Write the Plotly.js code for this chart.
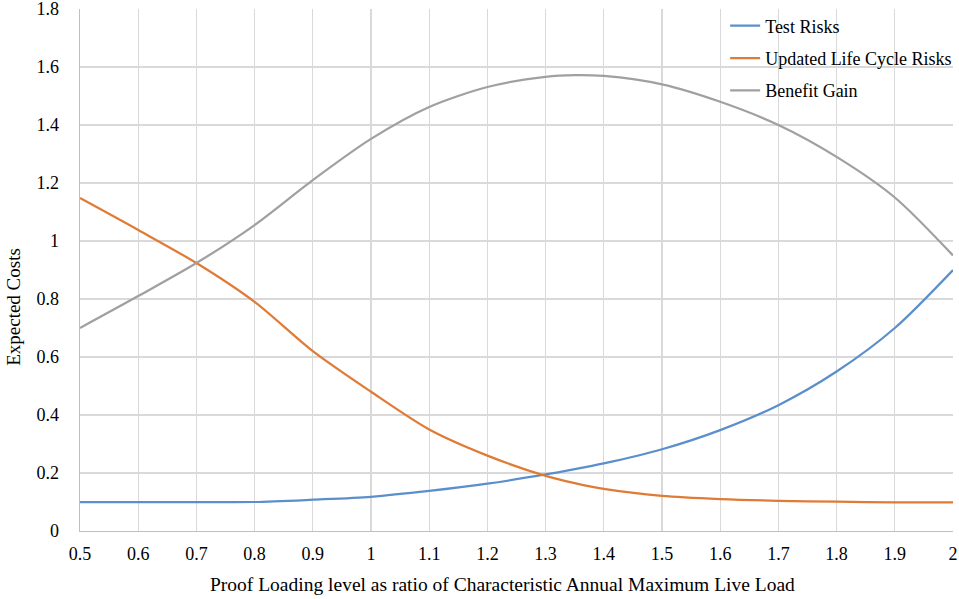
<!DOCTYPE html>
<html>
<head>
<meta charset="utf-8">
<script src="https://cdn.plot.ly/plotly-3.0.1.min.js"></script>
<style>
  body { margin: 0; background: #fff; }
  #chart { width: 959px; height: 599px; }
</style>
</head>
<body>
<div id="chart"></div>
<script>
// proof loading level (ratio of characteristic annual max live load)
var loadLevel = [0.5, 0.6, 0.7, 0.8, 0.9, 1.0, 1.1, 1.2, 1.3, 1.35, 1.4, 1.5, 1.6, 1.7, 1.8, 1.9, 2.0];

var testRisks    = [0.10, 0.10, 0.10, 0.10, 0.108, 0.118, 0.138, 0.163, 0.195, 0.213, 0.233, 0.282, 0.348, 0.434, 0.55, 0.70, 0.90];
var lifeCycle    = [1.148, 1.038, 0.924, 0.79, 0.62, 0.48, 0.35, 0.26, 0.19, 0.165, 0.145, 0.121, 0.110, 0.104, 0.101, 0.099, 0.099];
var benefitGain  = [0.70, 0.81, 0.924, 1.055, 1.21, 1.352, 1.462, 1.531, 1.566, 1.572, 1.569, 1.54, 1.48, 1.40, 1.29, 1.15, 0.95];

var seriesNames  = ['Test Risks', 'Updated Life Cycle Risks', 'Benefit Gain'];
var seriesColors = ['#5B8FCC', '#E07B36', '#A0A0A0'];
var xTicks = [0.5, 0.6, 0.7, 0.8, 0.9, 1, 1.1, 1.2, 1.3, 1.4, 1.5, 1.6, 1.7, 1.8, 1.9, 2];
var yTicks = [0, 0.2, 0.4, 0.6, 0.8, 1, 1.2, 1.4, 1.6, 1.8];

function makeTrace(y, i) {
    return {
        x: loadLevel,
        y: y,
        name: seriesNames[i],
        legendgroup: 'g' + i,
        mode: 'lines',
        type: 'scatter',
        line: { color: seriesColors[i], width: 2.25, shape: 'spline', smoothing: 0.8 }
    };
}

var data = [testRisks, lifeCycle, benefitGain].map(makeTrace);

var serif = 'Liberation Serif, Times New Roman, serif';

var layout = {
    width: 959,
    height: 599,
    margin: { l: 80, r: 6, t: 9, b: 68, autoexpand: false },
    paper_bgcolor: '#fff',
    plot_bgcolor: '#fff',
    font: { family: serif, size: 18, color: '#000' },
    showlegend: true,
    legend: {
        x: 0.739, y: 1.003, xanchor: 'left', yanchor: 'top',
        bgcolor: 'rgba(255,255,255,0)',
        font: { family: serif, size: 18, color: '#000' },
        traceorder: 'grouped',
        tracegroupgap: 6
    },
    // Excel sets both axis titles a little off centre, so they are annotations
    annotations: [{
        text: 'Expected Costs',
        xref: 'paper', yref: 'paper',
        x: -0.077, y: 0.429,
        xanchor: 'center', yanchor: 'middle',
        textangle: -90,
        showarrow: false,
        font: { family: serif, size: 19, color: '#000' }
    }, {
        text: 'Proof Loading level as ratio of Characteristic Annual Maximum Live Load',
        xref: 'paper', yref: 'paper',
        x: 0.4845, y: -0.103,
        xanchor: 'center', yanchor: 'middle',
        showarrow: false,
        font: { family: serif, size: 19.5, color: '#000' }
    }],
    xaxis: {
        range: [0.5, 2.0],
        tickvals: xTicks,
        ticktext: xTicks.map(String),
        tickfont: { size: 18 },
        showgrid: true,
        gridcolor: '#d9d9d9',
        gridwidth: 1.3,
        showline: true,
        linecolor: '#bfbfbf',
        linewidth: 1.3,
        zeroline: false,
        ticks: '',
        ticklabelstandoff: 6,
        ticklabeloverflow: 'allow'
    },
    yaxis: {
        range: [0, 1.8],
        tickvals: yTicks,
        ticktext: yTicks.map(String),
        tickfont: { size: 18 },
        showgrid: true,
        gridcolor: '#d9d9d9',
        gridwidth: 1.3,
        showline: true,
        linecolor: '#bfbfbf',
        linewidth: 1.3,
        zeroline: false,
        ticks: '',
        ticklabelstandoff: 16,
        ticklabeloverflow: 'allow'
    }
};

Plotly.newPlot('chart', data, layout, { displayModeBar: false, staticPlot: true });
</script>
</body>
</html>
